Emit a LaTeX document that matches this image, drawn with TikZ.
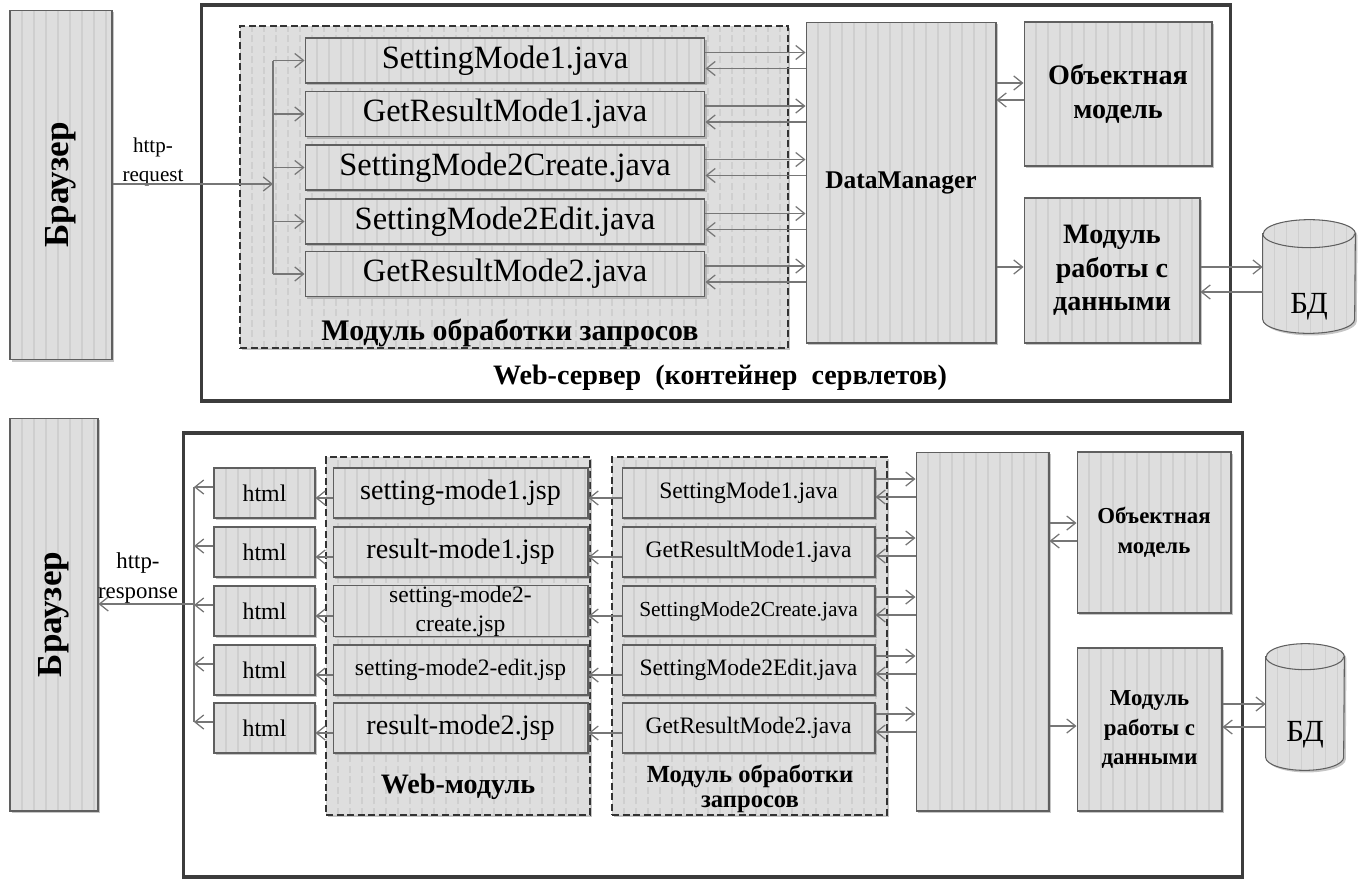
\documentclass[tikz,border=0pt]{standalone}
\usepackage{fontspec}
\setmainfont{Liberation Serif}
\usetikzlibrary{arrows.meta,shadows}

\definecolor{boxfill}{RGB}{222,222,222}
\definecolor{boxstripe}{RGB}{207,207,207}
\definecolor{boxline}{RGB}{95,95,95}
\definecolor{arrowgray}{RGB}{118,118,118}
\definecolor{frameline}{RGB}{60,60,60}

\newcommand{\fs}[2]{\fontsize{#1}{#2}\selectfont}
% cylinder drawn round an invisible node: #1 node, #2 x radius, #3 y radius
\newcommand{\dbcyl}[3]{%
  \path[draw=boxline,fill=boxfill,line width=0.6pt,shade,stripes]
    ([yshift=-#3]#1.north west) -- ([yshift=#3]#1.south west)
    arc[start angle=180,end angle=360,x radius=#2,y radius=#3]
    -- ([yshift=-#3]#1.north east)
    arc[start angle=0,end angle=180,x radius=#2,y radius=#3] -- cycle;
  \draw[boxline,line width=0.6pt] ([yshift=-#3]#1.north west)
    arc[start angle=180,end angle=360,x radius=#2,y radius=#3];}

\begin{document}
\begin{tikzpicture}
  [x=0.02cm,y=-0.02cm,every node/.style={inner sep=0pt,align=center}]
  \tikzstyle{stripes} = [path picture={\foreach \k in {0,0.24,...,22}
      \draw[boxstripe,line width=0.9pt] ([xshift=\k cm]path picture bounding box.south west)
        -- ([xshift=\k cm]path picture bounding box.north west);}]
  \tikzstyle{shade} = [drop shadow={shadow xshift=1.2pt,shadow yshift=-1.2pt,opacity=0.45}]
  \tikzstyle{box} = [draw=boxline,fill=boxfill,line width=0.6pt,shade,stripes]
  \tikzstyle{modbox} = [draw=black!80,line width=0.7pt,dash pattern=on 4pt off 2pt,fill=boxfill,shade,stripes]
  \tikzstyle{frame} = [draw=frameline,line width=1.8pt,fill=white]
  \tikzstyle{link} = [draw=arrowgray,line width=0.7pt,-{Straight Barb[length=5pt,width=8pt]}]
  \tikzstyle{wire} = [draw=arrowgray,line width=0.7pt]
  \useasboundingbox (0,0) rectangle (1365,879);

  % request
  \node[frame,minimum width=20.6cm,minimum height=7.92cm] (srv1) at (716,203) {};
  \node[box,minimum width=2.04cm,minimum height=7cm] (brw1) at (61,185) {};
  \node[rotate=90,font=\bfseries\fs{20}{22}] (tbrw1) at (brw1) {Браузер};
  \node[modbox,minimum width=10.96cm,minimum height=6.44cm] (req1) at (514,187) {};
  \foreach \name/\y/\txt in {j1/60.5/SettingMode1.java,j2/114/GetResultMode1.java,
      j3/167.5/SettingMode2Create.java,j4/221.5/SettingMode2Edit.java,j5/274/GetResultMode2.java}
    \node[box,minimum width=8cm,minimum height=0.9cm,font=\fs{18.5}{20}] (\name) at (505,\y) {\txt};
  \node[font=\bfseries\fs{17}{19}] (treq1) at (510,333) {Модуль обработки запросов};
  \node[box,minimum width=3.8cm,minimum height=6.42cm,font=\bfseries\fs{14.5}{16}] (dm1) at (901,182.5) {DataManager};
  \node[box,minimum width=3.76cm,minimum height=2.88cm,font=\bfseries\fs{16}{19}] (om1) at (1118,94) {Объектная\\модель};
  \node[box,minimum width=3.52cm,minimum height=2.9cm,font=\bfseries\fs{16}{19}] (dw1) at (1112,270.5) {Модуль\\работы с\\данными};
  \node[minimum width=1.84cm,minimum height=2.26cm] (db1) at (1309,276.5) {};
  \dbcyl{db1}{0.92cm}{0.28cm}
  \node[font=\fs{17.5}{19}] (tdb1) at ([yshift=-0.6cm]db1.center) {БД};
  \node[font=\bfseries\fs{16}{18}] (tsrv1) at (720,378) {Web-сервер\ \ (контейнер\ \ сервлетов)};
  \node[font=\fs{12}{16.4}] (treqlbl) at (153,162) {http-\\request};

  \coordinate (bus1) at (273,184);
  \draw[link] (brw1.east |- bus1) -- (bus1);
  \draw[wire] (bus1 |- j1.west) -- (bus1 |- j5.west);
  \foreach \i in {1,...,5} {
    \draw[link] (bus1 |- j\i.west) -- (j\i.west);
    \draw[link] ([yshift=0.16cm]j\i.east) -- ([yshift=0.16cm]j\i.east -| dm1.west);
    \draw[link] ([yshift=-0.16cm]j\i.east -| dm1.west) -- ([yshift=-0.16cm]j\i.east);
  }
  \draw[link] ([yshift=0.22cm]om1.west -| dm1.east) -- ([yshift=0.22cm]om1.west);
  \draw[link] ([yshift=-0.12cm]om1.west) -- ([yshift=-0.12cm]om1.west -| dm1.east);
  \draw[link] ([yshift=0.07cm]dw1.west -| dm1.east) -- ([yshift=0.07cm]dw1.west);
  \draw[link] ([yshift=0.07cm]dw1.east) -- ([yshift=0.07cm]dw1.east -| db1.west);
  \draw[link] ([yshift=-0.43cm]dw1.east -| db1.west) -- ([yshift=-0.43cm]dw1.east);

  % response
  \node[frame,minimum width=21.2cm,minimum height=8.88cm] (srv2) at (713,655) {};
  \node[box,minimum width=1.76cm,minimum height=7.86cm] (brw2) at (54,614.5) {};
  \node[rotate=90,font=\bfseries\fs{20}{22}] (tbrw2) at (brw2) {Браузер};
  \node[modbox,minimum width=5.28cm,minimum height=7.16cm] (web2) at (458,636) {};
  \node[modbox,minimum width=5.5cm,minimum height=7.16cm] (req2) at (749.5,636) {};
  \foreach \i/\y in {1/493,2/552,3/611,4/670,5/728}
    \node[box,minimum width=2.02cm,minimum height=1cm,font=\fs{13.6}{15}] (h\i) at (264.5,\y) {html};
  \foreach \i/\y/\f/\txt in {1/493/\fs{16}{18}/setting-mode1.jsp,2/552/\fs{16}{18}/result-mode1.jsp,
      3/611/\fs{13.4}{16.4}/{setting-mode2-\\create.jsp},4/670/\fs{13.4}{15}/setting-mode2-edit.jsp,
      5/728/\fs{16}{18}/result-mode2.jsp}
    \node[box,minimum width=5.1cm,minimum height=1cm,font=\f] (p\i) at (460.5,\y) {\txt};
  \foreach \i/\y/\f/\txt in {1/493/\fs{13.4}{15}/SettingMode1.java,2/552/\fs{13.4}{15}/GetResultMode1.java,
      3/611/\fs{12.2}{14}/SettingMode2Create.java,4/670/\fs{13.4}{15}/SettingMode2Edit.java,
      5/728/\fs{13.4}{15}/GetResultMode2.java}
    \node[box,minimum width=5.06cm,minimum height=1cm,font=\f] (k\i) at (748.5,\y) {\txt};
  \node[font=\bfseries\fs{16}{18}] (tweb2) at (458,787) {Web-модуль};
  \node[font=\bfseries\fs{14}{14.5}] (treq2) at (750,789) {Модуль обработки\\запросов};
  \node[box,minimum width=2.66cm,minimum height=7.18cm] (dm2) at (982.5,631.5) {};
  \node[box,minimum width=3.08cm,minimum height=3.22cm,font=\bfseries\fs{13}{17}] (om2) at (1154,532.5) {Объектная\\модель};
  \node[box,minimum width=2.9cm,minimum height=3.26cm,font=\bfseries\fs{13}{17}] (dw2) at (1149.5,729.5) {Модуль\\работы с\\данными};
  \node[minimum width=1.56cm,minimum height=2.52cm] (db2) at (1305,707) {};
  \dbcyl{db2}{0.78cm}{0.26cm}
  \node[font=\fs{17.5}{19}] (tdb2) at ([yshift=-0.56cm]db2.center) {БД};
  \node[font=\fs{13}{17}] (tresplbl) at (138,578) {http-\\response};

  \coordinate (bus2) at (194,604);
  \draw[wire] ([yshift=0.12cm]h1.west -| bus2) -- ([yshift=0.12cm]h5.west -| bus2);
  \draw[link] (bus2) -- (bus2 -| brw2.east);
  \foreach \i in {1,...,5} {
    \draw[link] ([yshift=0.12cm]h\i.west) -- ([yshift=0.12cm]h\i.west -| bus2);
    \draw[link] ([yshift=-0.1cm]p\i.west) -- ([yshift=-0.1cm]p\i.west -| h\i.east);
    \draw[link] ([yshift=-0.1cm]k\i.west) -- ([yshift=-0.1cm]k\i.west -| p\i.east);
    \draw[link] ([yshift=0.28cm]k\i.east) -- ([yshift=0.28cm]k\i.east -| dm2.west);
    \draw[link] ([yshift=-0.08cm]k\i.east -| dm2.west) -- ([yshift=-0.08cm]k\i.east);
  }
  \draw[link] ([yshift=0.19cm]om2.west -| dm2.east) -- ([yshift=0.19cm]om2.west);
  \draw[link] ([yshift=-0.17cm]om2.west) -- ([yshift=-0.17cm]om2.west -| dm2.east);
  \draw[link] ([yshift=0.07cm]dw2.west -| dm2.east) -- ([yshift=0.07cm]dw2.west);
  \draw[link] ([yshift=0.51cm]dw2.east) -- ([yshift=0.51cm]dw2.east -| db2.west);
  \draw[link] ([yshift=0.05cm]dw2.east -| db2.west) -- ([yshift=0.05cm]dw2.east);
\end{tikzpicture}
\end{document}
